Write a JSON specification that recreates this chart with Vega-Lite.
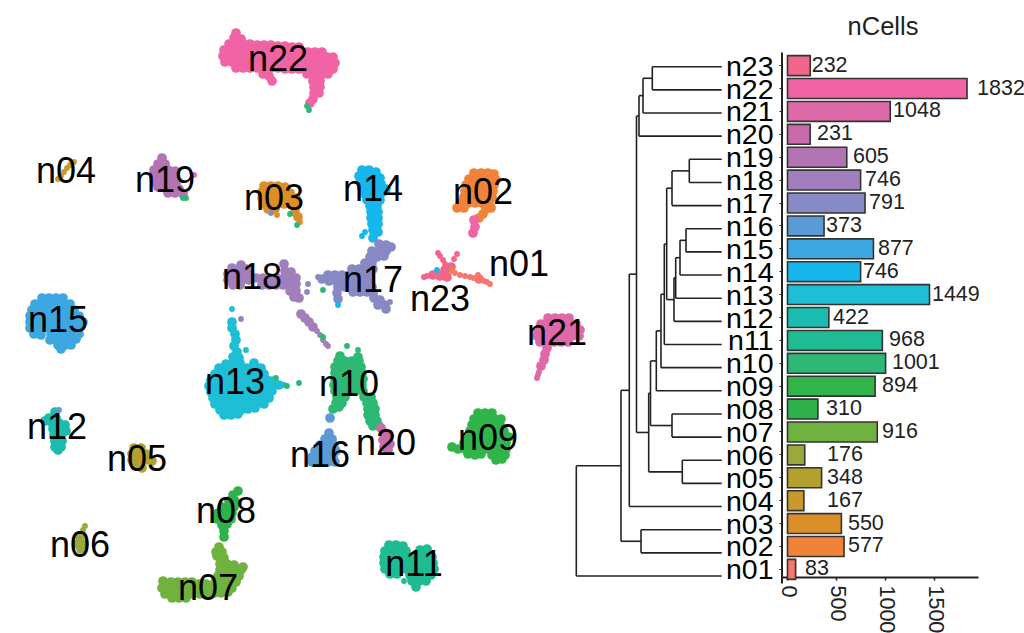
{"$schema":"https://vega.github.io/schema/vega-lite/v6.json","width":1024,"height":633,"padding":0,"autosize":{"type":"fit","contains":"padding"},"background":"white","config":{"view":{"stroke":null},"font":"Liberation Sans"},
"datasets":{
"cells":[
{"c":"n22","x":236,"y":33},{"c":"n22","x":234,"y":38},{"c":"n22","x":241,"y":39},
{"c":"n22","x":229,"y":44},{"c":"n22","x":236,"y":44},{"c":"n22","x":243,"y":44},{"c":"n22","x":250,"y":44},{"c":"n22","x":257,"y":45},{"c":"n22","x":264,"y":45},{"c":"n22","x":271,"y":45},{"c":"n22","x":278,"y":46},{"c":"n22","x":285,"y":46},{"c":"n22","x":292,"y":47},{"c":"n22","x":299,"y":47},
{"c":"n22","x":224,"y":50},{"c":"n22","x":231,"y":50},{"c":"n22","x":238,"y":50},{"c":"n22","x":245,"y":50},{"c":"n22","x":252,"y":50},{"c":"n22","x":259,"y":51},{"c":"n22","x":266,"y":51},{"c":"n22","x":273,"y":51},{"c":"n22","x":280,"y":51},{"c":"n22","x":287,"y":52},{"c":"n22","x":294,"y":52},{"c":"n22","x":301,"y":52},{"c":"n22","x":308,"y":52},{"c":"n22","x":315,"y":52},{"c":"n22","x":322,"y":52},
{"c":"n22","x":223,"y":56},{"c":"n22","x":229,"y":56},{"c":"n22","x":236,"y":56},{"c":"n22","x":243,"y":56},{"c":"n22","x":250,"y":56},{"c":"n22","x":257,"y":56},{"c":"n22","x":264,"y":56},{"c":"n22","x":271,"y":57},{"c":"n22","x":278,"y":57},{"c":"n22","x":285,"y":57},{"c":"n22","x":292,"y":57},{"c":"n22","x":299,"y":57},{"c":"n22","x":306,"y":57},{"c":"n22","x":313,"y":57},{"c":"n22","x":320,"y":57},{"c":"n22","x":327,"y":57},{"c":"n22","x":333,"y":57},
{"c":"n22","x":225,"y":62},{"c":"n22","x":232,"y":62},{"c":"n22","x":239,"y":62},{"c":"n22","x":246,"y":62},{"c":"n22","x":253,"y":62},{"c":"n22","x":260,"y":62},{"c":"n22","x":267,"y":62},{"c":"n22","x":274,"y":62},{"c":"n22","x":281,"y":62},{"c":"n22","x":288,"y":62},{"c":"n22","x":295,"y":62},{"c":"n22","x":302,"y":62},{"c":"n22","x":309,"y":62},{"c":"n22","x":316,"y":62},{"c":"n22","x":323,"y":62},{"c":"n22","x":330,"y":62},{"c":"n22","x":335,"y":63},
{"c":"n22","x":236,"y":68},{"c":"n22","x":243,"y":68},{"c":"n22","x":250,"y":68},{"c":"n22","x":257,"y":68},{"c":"n22","x":264,"y":68},{"c":"n22","x":271,"y":68},{"c":"n22","x":278,"y":68},{"c":"n22","x":285,"y":69},{"c":"n22","x":292,"y":69},{"c":"n22","x":299,"y":69},{"c":"n22","x":306,"y":69},{"c":"n22","x":313,"y":69},{"c":"n22","x":320,"y":69},{"c":"n22","x":327,"y":69},{"c":"n22","x":333,"y":69},
{"c":"n22","x":263,"y":74},{"c":"n22","x":269,"y":76},{"c":"n22","x":307,"y":74},{"c":"n22","x":314,"y":75},{"c":"n22","x":321,"y":75},{"c":"n22","x":328,"y":74},{"c":"n22","x":272,"y":81},{"c":"n22","x":313,"y":81},{"c":"n22","x":320,"y":81},{"c":"n22","x":314,"y":87},{"c":"n22","x":320,"y":87},{"c":"n22","x":314,"y":93},{"c":"n22","x":319,"y":93},{"c":"n22","x":313,"y":99},{"c":"n22","x":310,"y":103},
{"c":"n19","x":162,"y":158},{"c":"n19","x":158,"y":164},{"c":"n19","x":165,"y":164},{"c":"n19","x":154,"y":170},{"c":"n19","x":161,"y":170},{"c":"n19","x":168,"y":170},{"c":"n19","x":175,"y":171},{"c":"n19","x":154,"y":176},{"c":"n19","x":161,"y":176},{"c":"n19","x":168,"y":176},{"c":"n19","x":175,"y":177},{"c":"n19","x":155,"y":182},{"c":"n19","x":162,"y":182},{"c":"n19","x":169,"y":182},{"c":"n19","x":176,"y":183},{"c":"n19","x":158,"y":187},{"c":"n19","x":165,"y":188},{"c":"n19","x":172,"y":188},{"c":"n19","x":179,"y":189},{"c":"n19","x":168,"y":193},{"c":"n19","x":175,"y":193},{"c":"n19","x":183,"y":194},
{"c":"n03","x":264,"y":186},{"c":"n03","x":271,"y":186},{"c":"n03","x":278,"y":186},{"c":"n03","x":285,"y":187},{"c":"n03","x":262,"y":192},{"c":"n03","x":269,"y":192},{"c":"n03","x":276,"y":192},{"c":"n03","x":283,"y":192},{"c":"n03","x":290,"y":193},{"c":"n03","x":262,"y":198},{"c":"n03","x":269,"y":198},{"c":"n03","x":276,"y":198},{"c":"n03","x":283,"y":198},{"c":"n03","x":290,"y":198},{"c":"n03","x":296,"y":198},{"c":"n03","x":263,"y":204},{"c":"n03","x":270,"y":204},{"c":"n03","x":277,"y":204},{"c":"n03","x":284,"y":204},{"c":"n03","x":291,"y":204},{"c":"n03","x":296,"y":206},{"c":"n03","x":268,"y":209},{"c":"n03","x":275,"y":209},{"c":"n03","x":295,"y":212},{"c":"n03","x":298,"y":217},
{"c":"n14","x":362,"y":170},{"c":"n14","x":369,"y":170},{"c":"n14","x":376,"y":172},{"c":"n14","x":359,"y":176},{"c":"n14","x":366,"y":176},{"c":"n14","x":373,"y":176},{"c":"n14","x":380,"y":178},{"c":"n14","x":360,"y":182},{"c":"n14","x":367,"y":182},{"c":"n14","x":374,"y":182},{"c":"n14","x":381,"y":184},{"c":"n14","x":386,"y":189},{"c":"n14","x":362,"y":188},{"c":"n14","x":369,"y":188},{"c":"n14","x":376,"y":188},{"c":"n14","x":383,"y":192},{"c":"n14","x":365,"y":194},{"c":"n14","x":372,"y":194},{"c":"n14","x":379,"y":194},{"c":"n14","x":367,"y":200},{"c":"n14","x":374,"y":200},{"c":"n14","x":380,"y":200},{"c":"n14","x":370,"y":206},{"c":"n14","x":377,"y":206},{"c":"n14","x":371,"y":212},{"c":"n14","x":378,"y":212},{"c":"n14","x":371,"y":218},{"c":"n14","x":378,"y":218},{"c":"n14","x":372,"y":224},{"c":"n14","x":378,"y":224},{"c":"n14","x":373,"y":230},{"c":"n14","x":378,"y":232},{"c":"n14","x":373,"y":238},
{"c":"n17","x":379,"y":244},{"c":"n17","x":386,"y":245},{"c":"n17","x":372,"y":251},{"c":"n17","x":379,"y":251},{"c":"n17","x":386,"y":251},{"c":"n17","x":391,"y":247},{"c":"n17","x":370,"y":257},{"c":"n17","x":377,"y":257},{"c":"n17","x":384,"y":256},{"c":"n17","x":365,"y":263},{"c":"n17","x":372,"y":263},{"c":"n17","x":352,"y":269},{"c":"n17","x":359,"y":269},{"c":"n17","x":366,"y":269},{"c":"n17","x":373,"y":269},{"c":"n17","x":328,"y":275},{"c":"n17","x":335,"y":275},{"c":"n17","x":342,"y":275},{"c":"n17","x":349,"y":275},{"c":"n17","x":356,"y":275},{"c":"n17","x":363,"y":275},{"c":"n17","x":370,"y":275},{"c":"n17","x":322,"y":279},{"c":"n17","x":329,"y":281},{"c":"n17","x":336,"y":281},{"c":"n17","x":343,"y":281},{"c":"n17","x":350,"y":281},{"c":"n17","x":357,"y":281},{"c":"n17","x":364,"y":281},{"c":"n17","x":370,"y":281},{"c":"n17","x":338,"y":287},{"c":"n17","x":345,"y":287},{"c":"n17","x":352,"y":287},{"c":"n17","x":359,"y":287},{"c":"n17","x":366,"y":287},{"c":"n17","x":372,"y":287},{"c":"n17","x":337,"y":293},{"c":"n17","x":353,"y":292},{"c":"n17","x":360,"y":292},{"c":"n17","x":367,"y":292},{"c":"n17","x":373,"y":293},{"c":"n17","x":338,"y":299},{"c":"n17","x":374,"y":298},{"c":"n17","x":380,"y":300},{"c":"n17","x":378,"y":305},{"c":"n17","x":385,"y":305},{"c":"n17","x":386,"y":309},
{"c":"n18","x":241,"y":265},{"c":"n18","x":284,"y":264},{"c":"n18","x":232,"y":268},{"c":"n18","x":239,"y":269},{"c":"n18","x":246,"y":269},{"c":"n18","x":228,"y":274},{"c":"n18","x":235,"y":274},{"c":"n18","x":242,"y":274},{"c":"n18","x":249,"y":274},{"c":"n18","x":285,"y":271},{"c":"n18","x":291,"y":272},{"c":"n18","x":228,"y":280},{"c":"n18","x":235,"y":280},{"c":"n18","x":242,"y":280},{"c":"n18","x":249,"y":280},{"c":"n18","x":256,"y":278},{"c":"n18","x":263,"y":278},{"c":"n18","x":270,"y":278},{"c":"n18","x":277,"y":278},{"c":"n18","x":284,"y":278},{"c":"n18","x":291,"y":279},{"c":"n18","x":296,"y":278},{"c":"n18","x":233,"y":285},{"c":"n18","x":240,"y":285},{"c":"n18","x":262,"y":285},{"c":"n18","x":269,"y":285},{"c":"n18","x":276,"y":285},{"c":"n18","x":283,"y":285},{"c":"n18","x":290,"y":285},{"c":"n18","x":296,"y":284},{"c":"n18","x":290,"y":291},{"c":"n18","x":296,"y":291},{"c":"n18","x":294,"y":297},{"c":"n18","x":299,"y":298},{"c":"n18","x":301,"y":314},{"c":"n18","x":305,"y":318},{"c":"n18","x":309,"y":322},{"c":"n18","x":313,"y":327},
{"c":"n02","x":474,"y":173},{"c":"n02","x":481,"y":173},{"c":"n02","x":488,"y":173},{"c":"n02","x":494,"y":174},{"c":"n02","x":469,"y":179},{"c":"n02","x":476,"y":179},{"c":"n02","x":483,"y":179},{"c":"n02","x":490,"y":179},{"c":"n02","x":496,"y":180},{"c":"n02","x":466,"y":185},{"c":"n02","x":473,"y":185},{"c":"n02","x":480,"y":185},{"c":"n02","x":487,"y":185},{"c":"n02","x":494,"y":185},{"c":"n02","x":465,"y":191},{"c":"n02","x":472,"y":191},{"c":"n02","x":479,"y":191},{"c":"n02","x":486,"y":191},{"c":"n02","x":493,"y":191},{"c":"n02","x":464,"y":197},{"c":"n02","x":471,"y":197},{"c":"n02","x":478,"y":197},{"c":"n02","x":485,"y":197},{"c":"n02","x":492,"y":197},{"c":"n02","x":461,"y":203},{"c":"n02","x":468,"y":203},{"c":"n02","x":475,"y":203},{"c":"n02","x":482,"y":203},{"c":"n02","x":489,"y":203},{"c":"n02","x":457,"y":208},{"c":"n02","x":464,"y":208},{"c":"n02","x":486,"y":209},{"c":"n02","x":491,"y":208},{"c":"n02","x":483,"y":214},{"c":"n02","x":479,"y":218},
{"c":"n22","x":474,"y":220},{"c":"n22","x":475,"y":227},{"c":"n22","x":473,"y":233},
{"c":"n23","x":445,"y":270},{"c":"n23","x":440,"y":276},{"c":"n23","x":447,"y":277},{"c":"n23","x":433,"y":275},{"c":"n23","x":451,"y":267},
{"c":"n01","x":479,"y":279},
{"c":"n21","x":548,"y":318},{"c":"n21","x":555,"y":318},{"c":"n21","x":562,"y":318},{"c":"n21","x":569,"y":318},{"c":"n21","x":541,"y":324},{"c":"n21","x":548,"y":324},{"c":"n21","x":555,"y":324},{"c":"n21","x":562,"y":324},{"c":"n21","x":569,"y":324},{"c":"n21","x":576,"y":324},{"c":"n21","x":538,"y":330},{"c":"n21","x":545,"y":330},{"c":"n21","x":552,"y":330},{"c":"n21","x":559,"y":330},{"c":"n21","x":566,"y":330},{"c":"n21","x":573,"y":330},{"c":"n21","x":580,"y":330},{"c":"n21","x":537,"y":336},{"c":"n21","x":544,"y":336},{"c":"n21","x":551,"y":336},{"c":"n21","x":558,"y":336},{"c":"n21","x":565,"y":336},{"c":"n21","x":572,"y":336},{"c":"n21","x":579,"y":336},{"c":"n21","x":540,"y":342},{"c":"n21","x":547,"y":342},{"c":"n21","x":554,"y":342},{"c":"n21","x":561,"y":342},{"c":"n21","x":568,"y":342},{"c":"n21","x":547,"y":348},{"c":"n21","x":545,"y":354},{"c":"n21","x":544,"y":360},{"c":"n21","x":541,"y":366},
{"c":"n15","x":42,"y":298},{"c":"n15","x":49,"y":298},{"c":"n15","x":56,"y":298},{"c":"n15","x":63,"y":298},{"c":"n15","x":35,"y":304},{"c":"n15","x":42,"y":304},{"c":"n15","x":49,"y":304},{"c":"n15","x":56,"y":304},{"c":"n15","x":63,"y":304},{"c":"n15","x":70,"y":304},{"c":"n15","x":32,"y":310},{"c":"n15","x":39,"y":310},{"c":"n15","x":46,"y":310},{"c":"n15","x":53,"y":310},{"c":"n15","x":60,"y":310},{"c":"n15","x":67,"y":310},{"c":"n15","x":74,"y":310},{"c":"n15","x":30,"y":316},{"c":"n15","x":37,"y":316},{"c":"n15","x":44,"y":316},{"c":"n15","x":51,"y":316},{"c":"n15","x":58,"y":316},{"c":"n15","x":65,"y":316},{"c":"n15","x":72,"y":316},{"c":"n15","x":79,"y":316},{"c":"n15","x":30,"y":322},{"c":"n15","x":37,"y":322},{"c":"n15","x":44,"y":322},{"c":"n15","x":51,"y":322},{"c":"n15","x":58,"y":322},{"c":"n15","x":65,"y":322},{"c":"n15","x":72,"y":322},{"c":"n15","x":79,"y":322},{"c":"n15","x":83,"y":322},{"c":"n15","x":30,"y":328},{"c":"n15","x":37,"y":328},{"c":"n15","x":44,"y":328},{"c":"n15","x":51,"y":328},{"c":"n15","x":58,"y":328},{"c":"n15","x":65,"y":328},{"c":"n15","x":72,"y":328},{"c":"n15","x":79,"y":328},{"c":"n15","x":34,"y":334},{"c":"n15","x":41,"y":335},{"c":"n15","x":51,"y":334},{"c":"n15","x":58,"y":334},{"c":"n15","x":65,"y":334},{"c":"n15","x":72,"y":334},{"c":"n15","x":79,"y":334},{"c":"n15","x":50,"y":340},{"c":"n15","x":57,"y":340},{"c":"n15","x":64,"y":340},{"c":"n15","x":71,"y":340},{"c":"n15","x":76,"y":339},{"c":"n15","x":58,"y":345},{"c":"n15","x":65,"y":345},{"c":"n15","x":71,"y":345},{"c":"n15","x":61,"y":349},
{"c":"n13","x":232,"y":322},{"c":"n13","x":232,"y":328},{"c":"n13","x":235,"y":334},{"c":"n13","x":236,"y":340},{"c":"n13","x":234,"y":346},{"c":"n13","x":237,"y":352},{"c":"n13","x":233,"y":357},{"c":"n13","x":239,"y":358},
{"c":"n13","x":226,"y":364},{"c":"n13","x":233,"y":363},{"c":"n13","x":240,"y":363},{"c":"n13","x":254,"y":363},{"c":"n13","x":219,"y":368},{"c":"n13","x":226,"y":368},{"c":"n13","x":233,"y":368},{"c":"n13","x":240,"y":368},{"c":"n13","x":247,"y":368},{"c":"n13","x":254,"y":368},{"c":"n13","x":261,"y":368},{"c":"n13","x":215,"y":374},{"c":"n13","x":222,"y":374},{"c":"n13","x":229,"y":374},{"c":"n13","x":236,"y":374},{"c":"n13","x":243,"y":374},{"c":"n13","x":250,"y":374},{"c":"n13","x":257,"y":374},{"c":"n13","x":264,"y":374},{"c":"n13","x":211,"y":380},{"c":"n13","x":218,"y":380},{"c":"n13","x":225,"y":380},{"c":"n13","x":232,"y":380},{"c":"n13","x":239,"y":380},{"c":"n13","x":246,"y":380},{"c":"n13","x":253,"y":380},{"c":"n13","x":260,"y":380},{"c":"n13","x":267,"y":380},{"c":"n13","x":273,"y":381},{"c":"n13","x":209,"y":386},{"c":"n13","x":216,"y":386},{"c":"n13","x":223,"y":386},{"c":"n13","x":230,"y":386},{"c":"n13","x":237,"y":386},{"c":"n13","x":244,"y":386},{"c":"n13","x":251,"y":386},{"c":"n13","x":258,"y":386},{"c":"n13","x":265,"y":386},{"c":"n13","x":272,"y":386},{"c":"n13","x":279,"y":385},{"c":"n13","x":211,"y":392},{"c":"n13","x":218,"y":392},{"c":"n13","x":225,"y":392},{"c":"n13","x":232,"y":392},{"c":"n13","x":239,"y":392},{"c":"n13","x":246,"y":392},{"c":"n13","x":253,"y":392},{"c":"n13","x":260,"y":392},{"c":"n13","x":267,"y":392},{"c":"n13","x":272,"y":391},{"c":"n13","x":213,"y":398},{"c":"n13","x":220,"y":398},{"c":"n13","x":227,"y":398},{"c":"n13","x":234,"y":398},{"c":"n13","x":241,"y":398},{"c":"n13","x":248,"y":398},{"c":"n13","x":255,"y":398},{"c":"n13","x":262,"y":398},{"c":"n13","x":269,"y":398},{"c":"n13","x":215,"y":404},{"c":"n13","x":222,"y":404},{"c":"n13","x":229,"y":404},{"c":"n13","x":236,"y":404},{"c":"n13","x":243,"y":404},{"c":"n13","x":250,"y":404},{"c":"n13","x":257,"y":404},{"c":"n13","x":264,"y":404},{"c":"n13","x":220,"y":410},{"c":"n13","x":227,"y":410},{"c":"n13","x":234,"y":410},{"c":"n13","x":241,"y":410},{"c":"n13","x":248,"y":409},{"c":"n13","x":255,"y":408},{"c":"n13","x":224,"y":415},{"c":"n13","x":231,"y":415},{"c":"n13","x":238,"y":414},
{"c":"n12","x":55,"y":412},{"c":"n12","x":49,"y":418},{"c":"n12","x":56,"y":418},{"c":"n12","x":45,"y":421},{"c":"n12","x":52,"y":423},{"c":"n12","x":59,"y":423},{"c":"n12","x":65,"y":425},{"c":"n12","x":53,"y":429},{"c":"n12","x":60,"y":429},{"c":"n12","x":66,"y":431},{"c":"n12","x":54,"y":435},{"c":"n12","x":61,"y":435},{"c":"n12","x":55,"y":441},{"c":"n12","x":62,"y":441},{"c":"n12","x":55,"y":447},{"c":"n12","x":61,"y":447},{"c":"n12","x":58,"y":450},
{"c":"n05","x":134,"y":448},{"c":"n05","x":141,"y":448},{"c":"n05","x":132,"y":454},{"c":"n05","x":139,"y":454},{"c":"n05","x":146,"y":454},{"c":"n05","x":132,"y":460},{"c":"n05","x":139,"y":460},{"c":"n05","x":146,"y":460},{"c":"n05","x":152,"y":461},{"c":"n05","x":136,"y":466},{"c":"n05","x":142,"y":468},
{"c":"n06","x":80,"y":537},{"c":"n06","x":78,"y":544},{"c":"n06","x":84,"y":544},{"c":"n06","x":81,"y":549},
{"c":"n08","x":238,"y":491},{"c":"n08","x":233,"y":495},{"c":"n08","x":229,"y":501},{"c":"n08","x":235,"y":501},{"c":"n08","x":222,"y":507},{"c":"n08","x":228,"y":507},{"c":"n08","x":234,"y":507},{"c":"n08","x":218,"y":513},{"c":"n08","x":225,"y":513},{"c":"n08","x":232,"y":513},{"c":"n08","x":217,"y":519},{"c":"n08","x":224,"y":519},{"c":"n08","x":231,"y":519},{"c":"n08","x":222,"y":525},{"c":"n08","x":227,"y":524},{"c":"n08","x":224,"y":531},{"c":"n08","x":224,"y":537},
{"c":"n07","x":219,"y":547},{"c":"n07","x":216,"y":552},{"c":"n07","x":222,"y":552},{"c":"n07","x":217,"y":556},{"c":"n07","x":224,"y":558},{"c":"n07","x":220,"y":564},{"c":"n07","x":227,"y":564},{"c":"n07","x":234,"y":565},{"c":"n07","x":220,"y":570},{"c":"n07","x":227,"y":570},{"c":"n07","x":234,"y":570},{"c":"n07","x":241,"y":570},{"c":"n07","x":218,"y":576},{"c":"n07","x":225,"y":576},{"c":"n07","x":232,"y":576},{"c":"n07","x":239,"y":576},{"c":"n07","x":243,"y":567},{"c":"n07","x":163,"y":581},{"c":"n07","x":171,"y":582},{"c":"n07","x":178,"y":582},{"c":"n07","x":185,"y":582},{"c":"n07","x":192,"y":582},{"c":"n07","x":199,"y":584},{"c":"n07","x":206,"y":584},{"c":"n07","x":215,"y":582},{"c":"n07","x":222,"y":582},{"c":"n07","x":229,"y":582},{"c":"n07","x":236,"y":582},{"c":"n07","x":162,"y":588},{"c":"n07","x":169,"y":588},{"c":"n07","x":176,"y":588},{"c":"n07","x":183,"y":588},{"c":"n07","x":190,"y":588},{"c":"n07","x":197,"y":588},{"c":"n07","x":204,"y":588},{"c":"n07","x":211,"y":588},{"c":"n07","x":218,"y":588},{"c":"n07","x":225,"y":588},{"c":"n07","x":232,"y":588},{"c":"n07","x":165,"y":594},{"c":"n07","x":172,"y":594},{"c":"n07","x":179,"y":594},{"c":"n07","x":186,"y":594},{"c":"n07","x":193,"y":594},{"c":"n07","x":200,"y":594},{"c":"n07","x":207,"y":593},{"c":"n07","x":214,"y":593},{"c":"n07","x":221,"y":593},{"c":"n07","x":228,"y":592},{"c":"n07","x":172,"y":598},{"c":"n07","x":179,"y":598},{"c":"n07","x":186,"y":598},
{"c":"n10","x":340,"y":356},{"c":"n10","x":358,"y":357},{"c":"n10","x":338,"y":361},{"c":"n10","x":345,"y":361},{"c":"n10","x":352,"y":361},{"c":"n10","x":359,"y":361},{"c":"n10","x":335,"y":367},{"c":"n10","x":342,"y":367},{"c":"n10","x":349,"y":367},{"c":"n10","x":356,"y":367},{"c":"n10","x":361,"y":367},{"c":"n10","x":335,"y":373},{"c":"n10","x":342,"y":373},{"c":"n10","x":349,"y":373},{"c":"n10","x":356,"y":373},{"c":"n10","x":362,"y":373},{"c":"n10","x":335,"y":379},{"c":"n10","x":342,"y":379},{"c":"n10","x":349,"y":379},{"c":"n10","x":356,"y":379},{"c":"n10","x":363,"y":379},{"c":"n10","x":334,"y":385},{"c":"n10","x":341,"y":385},{"c":"n10","x":348,"y":385},{"c":"n10","x":355,"y":385},{"c":"n10","x":362,"y":385},{"c":"n10","x":335,"y":391},{"c":"n10","x":342,"y":391},{"c":"n10","x":349,"y":391},{"c":"n10","x":356,"y":391},{"c":"n10","x":363,"y":391},{"c":"n10","x":337,"y":397},{"c":"n10","x":345,"y":397},{"c":"n10","x":364,"y":397},{"c":"n10","x":371,"y":397},{"c":"n10","x":336,"y":403},{"c":"n10","x":342,"y":403},{"c":"n10","x":367,"y":403},{"c":"n10","x":373,"y":403},{"c":"n10","x":333,"y":409},{"c":"n10","x":339,"y":407},{"c":"n10","x":368,"y":409},{"c":"n10","x":375,"y":409},{"c":"n10","x":368,"y":415},{"c":"n10","x":375,"y":415},{"c":"n10","x":370,"y":421},{"c":"n10","x":377,"y":421},{"c":"n10","x":373,"y":426},{"c":"n10","x":379,"y":426},
{"c":"n16","x":330,"y":418},{"c":"n16","x":329,"y":433},{"c":"n16","x":325,"y":439},{"c":"n16","x":332,"y":439},{"c":"n16","x":320,"y":445},{"c":"n16","x":327,"y":445},{"c":"n16","x":334,"y":445},{"c":"n16","x":315,"y":451},{"c":"n16","x":322,"y":451},{"c":"n16","x":329,"y":451},{"c":"n16","x":336,"y":451},{"c":"n16","x":312,"y":457},{"c":"n16","x":319,"y":457},{"c":"n16","x":326,"y":457},{"c":"n16","x":333,"y":457},{"c":"n16","x":312,"y":462},{"c":"n16","x":320,"y":462},{"c":"n16","x":328,"y":462},{"c":"n16","x":335,"y":462},
{"c":"n20","x":381,"y":428},{"c":"n20","x":385,"y":433},{"c":"n20","x":389,"y":437},{"c":"n20","x":383,"y":440},{"c":"n20","x":390,"y":444},{"c":"n20","x":384,"y":447},{"c":"n20","x":388,"y":450},
{"c":"n09","x":478,"y":413},{"c":"n09","x":485,"y":413},{"c":"n09","x":492,"y":413},{"c":"n09","x":474,"y":419},{"c":"n09","x":481,"y":419},{"c":"n09","x":488,"y":419},{"c":"n09","x":495,"y":419},{"c":"n09","x":501,"y":419},{"c":"n09","x":472,"y":425},{"c":"n09","x":479,"y":425},{"c":"n09","x":486,"y":425},{"c":"n09","x":493,"y":425},{"c":"n09","x":500,"y":425},{"c":"n09","x":470,"y":431},{"c":"n09","x":477,"y":431},{"c":"n09","x":484,"y":431},{"c":"n09","x":491,"y":431},{"c":"n09","x":498,"y":431},{"c":"n09","x":504,"y":431},{"c":"n09","x":467,"y":437},{"c":"n09","x":474,"y":437},{"c":"n09","x":481,"y":437},{"c":"n09","x":488,"y":437},{"c":"n09","x":495,"y":437},{"c":"n09","x":502,"y":437},{"c":"n09","x":509,"y":437},{"c":"n09","x":464,"y":443},{"c":"n09","x":471,"y":443},{"c":"n09","x":478,"y":443},{"c":"n09","x":485,"y":443},{"c":"n09","x":492,"y":443},{"c":"n09","x":499,"y":443},{"c":"n09","x":506,"y":443},{"c":"n09","x":452,"y":447},{"c":"n09","x":458,"y":449},{"c":"n09","x":465,"y":449},{"c":"n09","x":472,"y":449},{"c":"n09","x":479,"y":449},{"c":"n09","x":486,"y":449},{"c":"n09","x":494,"y":449},{"c":"n09","x":501,"y":449},{"c":"n09","x":506,"y":449},{"c":"n09","x":468,"y":454},{"c":"n09","x":475,"y":455},{"c":"n09","x":481,"y":454},{"c":"n09","x":492,"y":455},{"c":"n09","x":499,"y":455},{"c":"n09","x":505,"y":455},{"c":"n09","x":496,"y":460},{"c":"n09","x":502,"y":459},
{"c":"n11","x":389,"y":545},{"c":"n11","x":396,"y":545},{"c":"n11","x":403,"y":546},{"c":"n11","x":385,"y":551},{"c":"n11","x":392,"y":551},{"c":"n11","x":399,"y":551},{"c":"n11","x":406,"y":551},{"c":"n11","x":420,"y":550},{"c":"n11","x":427,"y":549},{"c":"n11","x":384,"y":557},{"c":"n11","x":391,"y":557},{"c":"n11","x":398,"y":557},{"c":"n11","x":405,"y":557},{"c":"n11","x":412,"y":557},{"c":"n11","x":419,"y":557},{"c":"n11","x":426,"y":557},{"c":"n11","x":432,"y":557},{"c":"n11","x":384,"y":563},{"c":"n11","x":391,"y":563},{"c":"n11","x":398,"y":563},{"c":"n11","x":405,"y":563},{"c":"n11","x":412,"y":563},{"c":"n11","x":419,"y":563},{"c":"n11","x":426,"y":563},{"c":"n11","x":433,"y":563},{"c":"n11","x":385,"y":569},{"c":"n11","x":392,"y":569},{"c":"n11","x":399,"y":569},{"c":"n11","x":406,"y":569},{"c":"n11","x":413,"y":569},{"c":"n11","x":420,"y":569},{"c":"n11","x":427,"y":569},{"c":"n11","x":434,"y":569},{"c":"n11","x":390,"y":574},{"c":"n11","x":397,"y":574},{"c":"n11","x":410,"y":575},{"c":"n11","x":417,"y":575},{"c":"n11","x":424,"y":575},{"c":"n11","x":431,"y":575},{"c":"n11","x":412,"y":581},{"c":"n11","x":419,"y":581},{"c":"n11","x":426,"y":581},{"c":"n11","x":416,"y":587}
],
"strays":[
{"c":"n10","x":309,"y":110},{"c":"n10","x":307,"y":106},{"c":"n10","x":186,"y":198},{"c":"n10","x":183,"y":198},{"c":"n22","x":194,"y":175},
{"c":"n04","x":58,"y":179},{"c":"n04","x":61,"y":176},{"c":"n04","x":64,"y":172},{"c":"n04","x":67,"y":168},{"c":"n04","x":70,"y":165},{"c":"n04","x":74,"y":162},
{"c":"n03","x":277,"y":215},{"c":"n03","x":300,"y":222},{"c":"n10","x":290,"y":214},{"c":"n10","x":297,"y":225},{"c":"n17","x":271,"y":213},
{"c":"n14","x":362,"y":236},{"c":"n14","x":365,"y":232},
{"c":"n10","x":323,"y":290},{"c":"n14","x":338,"y":305},{"c":"n17","x":318,"y":277},{"c":"n17","x":308,"y":284},{"c":"n17","x":307,"y":292},{"c":"n17","x":390,"y":302},
{"c":"n18","x":317,"y":331},{"c":"n18","x":320,"y":335},{"c":"n18","x":323,"y":340},{"c":"n18","x":326,"y":344},{"c":"n18","x":328,"y":346},{"c":"n10","x":323,"y":337},
{"c":"n23","x":438,"y":253},{"c":"n23","x":440,"y":256},{"c":"n23","x":443,"y":260},{"c":"n23","x":445,"y":264},{"c":"n23","x":457,"y":254},{"c":"n23","x":454,"y":259},{"c":"n23","x":424,"y":277},{"c":"n23","x":427,"y":276},{"c":"n14","x":437,"y":270},{"c":"n03","x":452,"y":271},
{"c":"n01","x":455,"y":273},{"c":"n01","x":460,"y":275},{"c":"n01","x":465,"y":276},{"c":"n01","x":470,"y":277},{"c":"n01","x":474,"y":278},{"c":"n01","x":478,"y":275},{"c":"n01","x":484,"y":281},{"c":"n01","x":487,"y":282},{"c":"n01","x":490,"y":284},
{"c":"n21","x":539,"y":372},{"c":"n21","x":537,"y":378},{"c":"n21","x":538,"y":375},
{"c":"n13","x":232,"y":309},{"c":"n13","x":246,"y":350},{"c":"n13","x":284,"y":385},{"c":"n10","x":276,"y":378},{"c":"n10","x":287,"y":386},{"c":"n10","x":299,"y":383},{"c":"n17","x":241,"y":319},
{"c":"n16","x":59,"y":410},
{"c":"n06","x":85,"y":526},{"c":"n06","x":83,"y":530},
{"c":"n10","x":347,"y":346},{"c":"n10","x":358,"y":350},{"c":"n11","x":404,"y":581}
],
"names":[{"t":"n22","x":278,"y":60},{"t":"n04","x":66,"y":172},{"t":"n19","x":165,"y":181},{"t":"n03","x":274,"y":199},{"t":"n14","x":373,"y":190},{"t":"n02","x":483,"y":193},{"t":"n01","x":519,"y":265},{"t":"n18","x":252,"y":278},{"t":"n17","x":373,"y":281},{"t":"n23","x":440,"y":300},{"t":"n15","x":58,"y":321},{"t":"n21","x":557,"y":334},{"t":"n13","x":235,"y":383},{"t":"n10","x":349,"y":385},{"t":"n12","x":57,"y":428},{"t":"n05","x":137,"y":460},{"t":"n20","x":386,"y":444},{"t":"n16","x":320,"y":456},{"t":"n09","x":488,"y":439},{"t":"n08","x":226,"y":512},{"t":"n06","x":80,"y":546},{"t":"n11","x":414,"y":565},{"t":"n07","x":208,"y":589}],
"tree":[
{"a":145.4,"b":145.4,"p":4.76,"q":0},{"a":145.4,"b":100.7,"p":4.76,"q":4.76},{"a":145.4,"b":0,"p":0,"q":0},
{"a":100.7,"b":100.7,"p":8.02,"q":1.5},{"a":100.7,"b":92.4,"p":8.02,"q":8.02},{"a":100.7,"b":80.7,"p":1.5,"q":1.5},
{"a":80.7,"b":80.7,"p":2,"q":1},{"a":80.7,"b":0,"p":2,"q":2},{"a":80.7,"b":0,"p":1,"q":1},
{"a":92.4,"b":92.4,"p":13.04,"q":3},{"a":92.4,"b":85.2,"p":13.04,"q":13.04},{"a":92.4,"b":0,"p":3,"q":3},
{"a":85.2,"b":85.2,"p":19.875,"q":6.2},{"a":85.2,"b":82.7,"p":19.875,"q":19.875},{"a":85.2,"b":73,"p":6.2,"q":6.2},
{"a":82.7,"b":82.7,"p":20.75,"q":19},{"a":82.7,"b":78.7,"p":20.75,"q":20.75},{"a":82.7,"b":0,"p":19,"q":19},
{"a":78.7,"b":78.7,"p":21.5,"q":20},{"a":78.7,"b":69.4,"p":21.5,"q":21.5},{"a":78.7,"b":0,"p":20,"q":20},
{"a":69.4,"b":69.4,"p":22,"q":21},{"a":69.4,"b":0,"p":22,"q":22},{"a":69.4,"b":0,"p":21,"q":21},
{"a":73,"b":73,"p":7.9,"q":4.5},{"a":73,"b":71.2,"p":7.9,"q":7.9},{"a":73,"b":39.4,"p":4.5,"q":4.5},
{"a":39.4,"b":39.4,"p":5,"q":4},{"a":39.4,"b":0,"p":5,"q":5},{"a":39.4,"b":0,"p":4,"q":4},
{"a":71.2,"b":71.2,"p":9.29,"q":6.5},{"a":71.2,"b":65.4,"p":9.29,"q":9.29},{"a":71.2,"b":49.7,"p":6.5,"q":6.5},
{"a":49.7,"b":49.7,"p":7,"q":6},{"a":49.7,"b":0,"p":7,"q":7},{"a":49.7,"b":0,"p":6,"q":6},
{"a":65.4,"b":65.4,"p":10.59,"q":8},{"a":65.4,"b":60.7,"p":10.59,"q":10.59},{"a":65.4,"b":0,"p":8,"q":8},
{"a":60.7,"b":60.7,"p":12.17,"q":9},{"a":60.7,"b":57.4,"p":12.17,"q":12.17},{"a":60.7,"b":0,"p":9,"q":9},
{"a":57.4,"b":57.4,"p":14.34,"q":10},{"a":57.4,"b":55,"p":14.34,"q":14.34},{"a":57.4,"b":0,"p":10,"q":10},
{"a":55,"b":55,"p":16.75,"q":11.94},{"a":55,"b":49.7,"p":16.75,"q":16.75},{"a":55,"b":47.7,"p":11.94,"q":11.94},
{"a":49.7,"b":49.7,"p":17.5,"q":16},{"a":49.7,"b":32.4,"p":17.5,"q":17.5},{"a":49.7,"b":0,"p":16,"q":16},
{"a":32.4,"b":32.4,"p":18,"q":17},{"a":32.4,"b":0,"p":18,"q":18},{"a":32.4,"b":0,"p":17,"q":17},
{"a":47.7,"b":47.7,"p":12.88,"q":11},{"a":47.7,"b":46,"p":12.88,"q":12.88},{"a":47.7,"b":0,"p":11,"q":11},
{"a":46,"b":46,"p":13.75,"q":12},{"a":46,"b":41.7,"p":13.75,"q":13.75},{"a":46,"b":0,"p":12,"q":12},
{"a":41.7,"b":41.7,"p":14.5,"q":13},{"a":41.7,"b":35.7,"p":14.5,"q":14.5},{"a":41.7,"b":0,"p":13,"q":13},
{"a":35.7,"b":35.7,"p":15,"q":14},{"a":35.7,"b":0,"p":15,"q":15},{"a":35.7,"b":0,"p":14,"q":14}
],
"bars":[{"c":"n23","n":232,"at":247},{"c":"n22","n":1832,"at":1934},{"c":"n21","n":1048,"at":1077},{"c":"n20","n":231,"at":301},{"c":"n19","n":605,"at":668},{"c":"n18","n":746,"at":791},{"c":"n17","n":791,"at":832},{"c":"n16","n":373,"at":393},{"c":"n15","n":877,"at":923},{"c":"n14","n":746,"at":770},{"c":"n13","n":1449,"at":1474},{"c":"n12","n":422,"at":464},{"c":"n11","n":968,"at":1036},{"c":"n10","n":1001,"at":1066},{"c":"n09","n":894,"at":964},{"c":"n08","n":310,"at":393},{"c":"n07","n":916,"at":964},{"c":"n06","n":176,"at":403},{"c":"n05","n":348,"at":403},{"c":"n04","n":167,"at":403},{"c":"n03","n":550,"at":617},{"c":"n02","n":577,"at":617},{"c":"n01","n":83,"at":179}],
"heading":[{"t":"nCells","x":883,"y":27}]
},
"resolve":{"scale":{"x":"independent","y":"independent"}},
"layer":[
{"layer":[
{"data":{"name":"cells"},"mark":{"type":"circle","size":95,"opacity":1},"encoding":{"x":{"field":"x","type":"quantitative","axis":null,"scale":{"domain":[0,1024],"range":[0,1024],"nice":false,"zero":false}},"y":{"field":"y","type":"quantitative","axis":null,"scale":{"domain":[0,633],"range":[0,633],"nice":false,"zero":false}},"color":{"field":"c","type":"nominal","legend":null,"scale":{"domain":["n01","n02","n03","n04","n05","n06","n07","n08","n09","n10","n11","n12","n13","n14","n15","n16","n17","n18","n19","n20","n21","n22","n23"],"range":["#F8766D","#F08239","#DD8F27","#C99A2A","#B2A12E","#9BA93A","#6FB23F","#2FB24A","#31B44A","#2EB875","#1FBB93","#1ABCAE","#1EBED6","#15B7EC","#3CA7E0","#5B9BD5","#8789C4","#A17FBC","#B274B3","#C76BAC","#DF68A8","#F063A4","#F2668B"]}}}},
{"data":{"name":"strays"},"mark":{"type":"circle","size":34,"opacity":1},"encoding":{"x":{"field":"x","type":"quantitative"},"y":{"field":"y","type":"quantitative"},"color":{"field":"c","type":"nominal"}}},
{"data":{"name":"names"},"mark":{"type":"text","fontSize":36,"font":"Liberation Sans","color":"#000000","align":"center","baseline":"middle"},"encoding":{"x":{"field":"x","type":"quantitative"},"y":{"field":"y","type":"quantitative"},"text":{"field":"t"}}},
{"data":{"name":"heading"},"mark":{"type":"text","fontSize":25.5,"font":"Liberation Sans","color":"#222222","align":"center","baseline":"middle"},"encoding":{"x":{"field":"x","type":"quantitative"},"y":{"field":"y","type":"quantitative"},"text":{"field":"t"}}}
]},
{"data":{"name":"tree"},"mark":{"type":"rule","strokeWidth":1.6,"color":"#222222"},"encoding":{"x":{"field":"a","type":"quantitative","axis":null,"scale":{"domain":[145.4,0],"range":[576.3,721.7],"nice":false,"zero":false}},"x2":{"field":"b"},"y":{"field":"p","type":"quantitative","axis":null,"scale":{"domain":[0,22],"range":[576,66.7],"nice":false,"zero":false}},"y2":{"field":"q"}}},
{"data":{"name":"bars"},"layer":[
{"mark":{"type":"bar","stroke":"#333333","strokeWidth":1.6},"encoding":{"x":{"field":"n","type":"quantitative","scale":{"domain":[-61.2,1944],"range":[781.5,978],"nice":false,"zero":false},"axis":{"orient":"bottom","offset":-50,"title":null,"values":[0,500,1000,1500],"format":"d","grid":false,"labelAngle":90,"labelAlign":"left","labelBaseline":"middle","labelFontSize":21.5,"labelFont":"Liberation Sans","labelColor":"#222222","labelPadding":5,"tickColor":"#222222","tickSize":3,"tickWidth":1.5,"domainColor":"#222222","domainWidth":2}},"y":{"field":"c","type":"nominal","sort":null,"scale":{"range":[52,583],"paddingInner":0.13,"paddingOuter":0.16},"axis":{"orient":"left","offset":-781.5,"title":null,"grid":false,"labelFontSize":28.5,"labelFont":"Liberation Sans","labelColor":"#000000","labelPadding":6,"labelOffset":1,"tickColor":"#222222","tickSize":2.5,"tickWidth":1,"domainColor":"#222222","domainWidth":2}},"color":{"field":"c","type":"nominal"}}},
{"mark":{"type":"text","fontSize":21.5,"font":"Liberation Sans","color":"#222222","align":"left","baseline":"middle"},"encoding":{"x":{"field":"at","type":"quantitative"},"y":{"field":"c","type":"nominal","sort":null},"text":{"field":"n","type":"quantitative","format":"d"}}}
]}
]}
